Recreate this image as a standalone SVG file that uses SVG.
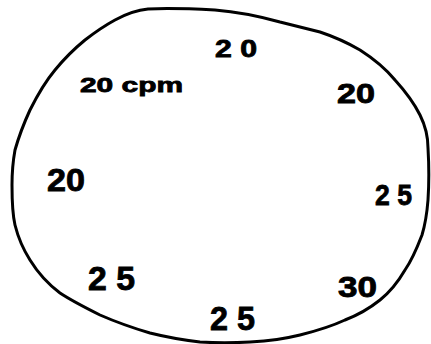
<svg xmlns="http://www.w3.org/2000/svg" width="431" height="344" viewBox="0 0 431 344">
<style>
.t{font-family:"Liberation Sans",Arial,sans-serif;font-weight:bold;fill:#000;stroke:#000;stroke-width:0.8}
.loop{fill:none;stroke:#000;stroke-width:3;stroke-linejoin:round;stroke-linecap:round}
</style>
<rect width="431" height="344" fill="#fff"/>
<path class="loop" d="M148,9 C170,8 195,9 215,10 C240,12 262,17 280,22 C296,26 308,29 320,32 C335,37 348,43 360,50 C374,59 386,69 395,80 C405,91 414,103 420,115 C425,125 428,135 428,148 C429,165 429,185 428,200 C427,213 425,225 422,235 C417,248 412,260 405,270 C398,282 390,292 380,300 C370,308 358,315 345,320 C330,327 316,331 300,335 C284,339 267,341 250,342 C233,343 216,343 200,342 C183,340 166,337 150,333 C133,328 116,322 100,315 C86,308 72,301 60,293 C48,284 38,273 30,260 C23,249 18,237 15,225 C12,212 12,198 12,185 C12,173 13,161 15,150 C19,136 24,123 30,110 C37,96 45,82 55,70 C64,59 74,49 85,40 C94,33 104,26 115,20 C126,14 137,10 148,9 Z"/>
<g id="labels">
<text class="t" x="215" y="57" font-size="23" textLength="42" lengthAdjust="spacingAndGlyphs">2 0</text>
<text class="t" x="80" y="92" font-size="21" textLength="103" lengthAdjust="spacingAndGlyphs">20 cpm</text>
<text class="t" x="337" y="103" font-size="27" textLength="38" lengthAdjust="spacingAndGlyphs">20</text>
<text class="t" x="47" y="191" font-size="32" textLength="38" lengthAdjust="spacingAndGlyphs">20</text>
<text class="t" x="375" y="205" font-size="30" textLength="37" lengthAdjust="spacingAndGlyphs">2 5</text>
<text class="t" x="88" y="290" font-size="33" textLength="47" lengthAdjust="spacingAndGlyphs">2 5</text>
<text class="t" x="338" y="297" font-size="29" textLength="39" lengthAdjust="spacingAndGlyphs">30</text>
<text class="t" x="210" y="330" font-size="34" textLength="45" lengthAdjust="spacingAndGlyphs">2 5</text>
</g>
</svg>
